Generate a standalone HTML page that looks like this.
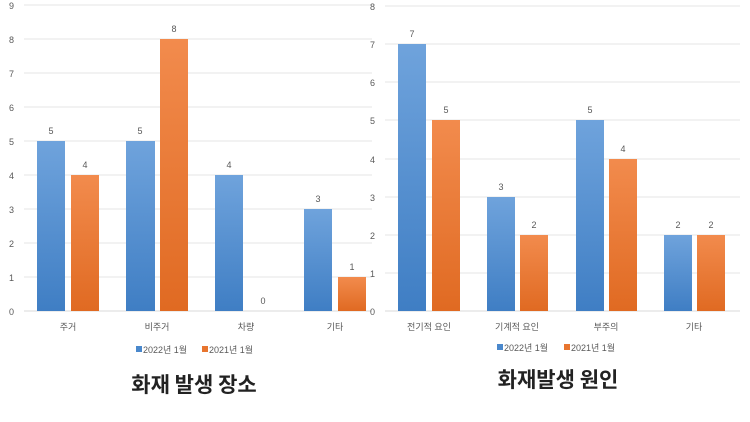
<!DOCTYPE html>
<html><head><meta charset="utf-8"><style>
html,body{margin:0;padding:0;background:#fff;}
svg{display:block;font-family:"Liberation Sans","Noto Sans CJK KR",sans-serif;}
.t{font-size:9px;fill:#595959;}
.c{font-size:9px;fill:#595959;text-anchor:middle;}
.g{stroke:#e6e6e6;stroke-width:1;}
.h{font-size:21px;font-weight:bold;fill:#222;text-anchor:middle;font-family:"Noto Sans CJK KR",sans-serif;}
</style></head><body>
<svg width="750" height="422" viewBox="0 0 750 422">
<defs>
<linearGradient id="b" x1="0" y1="0" x2="0" y2="1"><stop offset="0" stop-color="#6fa3dc"/><stop offset="1" stop-color="#3f7ec4"/></linearGradient>
<linearGradient id="o" x1="0" y1="0" x2="0" y2="1"><stop offset="0" stop-color="#f28b4d"/><stop offset="1" stop-color="#e06a22"/></linearGradient>
</defs>
<g>
<line class="g" x1="24" x2="372" y1="5" y2="5"/><line class="g" x1="24" x2="372" y1="39" y2="39"/>
<line class="g" x1="24" x2="372" y1="73" y2="73"/><line class="g" x1="24" x2="372" y1="107" y2="107"/>
<line class="g" x1="24" x2="372" y1="141" y2="141"/><line class="g" x1="24" x2="372" y1="175" y2="175"/>
<line class="g" x1="24" x2="372" y1="209" y2="209"/><line class="g" x1="24" x2="372" y1="243" y2="243"/>
<line class="g" x1="24" x2="372" y1="277" y2="277"/><line x1="24" x2="372" y1="311" y2="311" stroke="#d9d9d9"/>
<text class="t" x="9" y="9">9</text><text class="t" x="9" y="43">8</text><text class="t" x="9" y="77">7</text>
<text class="t" x="9" y="111">6</text><text class="t" x="9" y="145">5</text><text class="t" x="9" y="179">4</text>
<text class="t" x="9" y="213">3</text><text class="t" x="9" y="247">2</text><text class="t" x="9" y="281">1</text>
<text class="t" x="9" y="315">0</text>
<rect x="37" y="141" width="28" height="170" fill="url(#b)"/><rect x="71" y="175" width="28" height="136" fill="url(#o)"/>
<rect x="126" y="141" width="29" height="170" fill="url(#b)"/><rect x="160" y="39" width="28" height="272" fill="url(#o)"/>
<rect x="215" y="175" width="28" height="136" fill="url(#b)"/>
<rect x="304" y="209" width="28" height="102" fill="url(#b)"/><rect x="338" y="277" width="28" height="34" fill="url(#o)"/>
<text class="c" x="51" y="134">5</text><text class="c" x="85" y="168">4</text>
<text class="c" x="140" y="134">5</text><text class="c" x="174" y="32">8</text>
<text class="c" x="229" y="168">4</text><text class="c" x="263" y="304">0</text>
<text class="c" x="318" y="202">3</text><text class="c" x="352" y="270">1</text>
<text class="c" x="68" y="330">주거</text><text class="c" x="157" y="330">비주거</text>
<text class="c" x="246" y="330">차량</text><text class="c" x="335" y="330">기타</text>
<rect x="136" y="346" width="6" height="6" fill="#4a88cc"/><text class="t" x="143" y="353">2022년 1월</text>
<rect x="202" y="346" width="6" height="6" fill="#e8752f"/><text class="t" x="209" y="353">2021년 1월</text>
<text class="h" x="194" y="392">화재 발생 장소</text>
</g>
<g>
<line class="g" x1="385" x2="740" y1="6" y2="6"/><line class="g" x1="385" x2="740" y1="44" y2="44"/>
<line class="g" x1="385" x2="740" y1="82" y2="82"/><line class="g" x1="385" x2="740" y1="120" y2="120"/>
<line class="g" x1="385" x2="740" y1="159" y2="159"/><line class="g" x1="385" x2="740" y1="197" y2="197"/>
<line class="g" x1="385" x2="740" y1="235" y2="235"/><line class="g" x1="385" x2="740" y1="273" y2="273"/>
<line x1="385" x2="740" y1="311" y2="311" stroke="#d9d9d9"/>
<text class="t" x="370" y="10">8</text><text class="t" x="370" y="48">7</text><text class="t" x="370" y="86">6</text>
<text class="t" x="370" y="124">5</text><text class="t" x="370" y="163">4</text><text class="t" x="370" y="201">3</text>
<text class="t" x="370" y="239">2</text><text class="t" x="370" y="277">1</text><text class="t" x="370" y="315">0</text>
<rect x="398" y="44" width="28" height="267" fill="url(#b)"/><rect x="432" y="120" width="28" height="191" fill="url(#o)"/>
<rect x="487" y="197" width="28" height="114" fill="url(#b)"/><rect x="520" y="235" width="28" height="76" fill="url(#o)"/>
<rect x="576" y="120" width="28" height="191" fill="url(#b)"/><rect x="609" y="159" width="28" height="152" fill="url(#o)"/>
<rect x="664" y="235" width="28" height="76" fill="url(#b)"/><rect x="697" y="235" width="28" height="76" fill="url(#o)"/>
<text class="c" x="412" y="37">7</text><text class="c" x="446" y="113">5</text>
<text class="c" x="501" y="190">3</text><text class="c" x="534" y="228">2</text>
<text class="c" x="590" y="113">5</text><text class="c" x="623" y="152">4</text>
<text class="c" x="678" y="228">2</text><text class="c" x="711" y="228">2</text>
<text class="c" x="429" y="330">전기적 요인</text><text class="c" x="517" y="330">기계적 요인</text>
<text class="c" x="606" y="330">부주의</text><text class="c" x="694" y="330">기타</text>
<rect x="497" y="344" width="6" height="6" fill="#4a88cc"/><text class="t" x="504" y="351">2022년 1월</text>
<rect x="564" y="344" width="6" height="6" fill="#e8752f"/><text class="t" x="571" y="351">2021년 1월</text>
<text class="h" x="558" y="387">화재발생 원인</text>
</g>
</svg>
</body></html>
